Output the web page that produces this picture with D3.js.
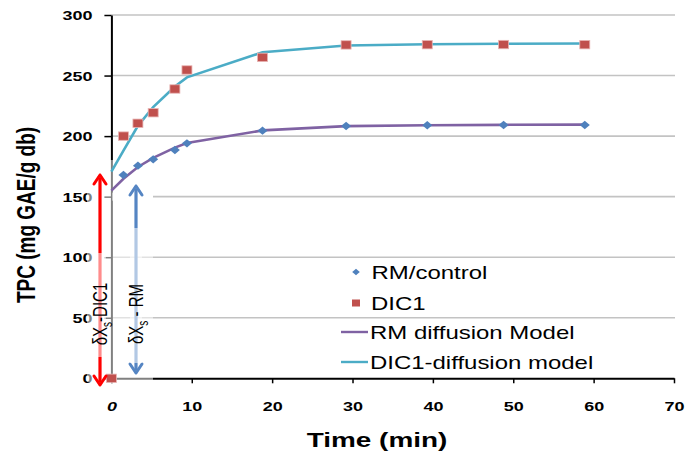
<!DOCTYPE html>
<html>
<head>
<meta charset="utf-8">
<script src="https://cdn.jsdelivr.net/npm/d3@7"></script>
<style>
  html, body { margin: 0; padding: 0; background: #fff; }
  svg { display: block; font-family: "Liberation Sans", Arial, sans-serif; }
</style>
</head>
<body>
<svg id="chart" width="685" height="458"></svg>
<script>
// ---------------- data ----------------
const times       = [1.5, 3.3, 5.2, 7.9, 9.4, 18.8, 29.2, 39.3, 48.8, 58.9];
const rmControl   = [167.9, 175.6, 180.8, 188.5, 194.0, 204.5, 208.4, 209.0, 209.2, 209.2];
const dic1Times   = [0, 1.5, 3.3, 5.2, 7.9, 9.4, 18.8, 29.2, 39.3, 48.8, 58.9];
const dic1        = [0, 200.0, 210.6, 219.3, 238.9, 254.6, 265.0, 275.3, 275.5, 275.6, 275.5];
const modelTimes  = [0, 1.5, 3.3, 5.2, 7.9, 9.4, 18.8, 29.2, 39.3, 48.8, 58.9];
const rmModel     = [155.0, 164.8, 174.5, 182.0, 190.5, 194.3, 204.7, 208.2, 209.0, 209.3, 209.5];
const dic1Model   = [170.6, 188.0, 208.5, 224.0, 241.0, 248.5, 269.3, 274.8, 275.8, 276.3, 276.5];
const xTicks      = [0, 10, 20, 30, 40, 50, 60, 70];
const yTicks      = [0, 50, 100, 150, 200, 250, 300];
const legendItems = ["RM/control", "DIC1", "RM diffusion Model", "DIC1-diffusion model"];
const xTitle = "Time (min)";
const yTitle = "TPC (mg GAE/g db)";

// ---------------- layout ----------------
const svg = d3.select("#chart");
const margin = { left: 111.4, right: 11, top: 15, bottom: 79.7 };
const W = 685, H = 458;
const x = d3.scaleLinear().domain([0, 70]).range([margin.left, W - margin.right]);
const y = d3.scaleLinear().domain([0, 300]).range([H - margin.bottom, margin.top]);

const C = {
  grid: "#c3c3c3",
  blue: "#4f81bd",
  red: "#c0504d",
  purple: "#7f62a3",
  cyan: "#4bacc6",
  arrowRed: "#ff0000",
  arrowBlue: "#5585c3"
};

// gridlines
svg.append("g").selectAll("line")
  .data(yTicks.filter(v => v > 0))
  .join("line")
  .attr("x1", x(0)).attr("x2", x(70) + 1)
  .attr("y1", d => y(d)).attr("y2", d => y(d))
  .attr("stroke", C.grid).attr("stroke-width", 1.6);

// y axis
const SXT = 1.44;
const yAxis = svg.append("g")
  .attr("transform", `translate(${x(0)},0)`)
  .call(d3.axisLeft(y).tickValues(yTicks).tickSize(7).tickSizeOuter(0).tickFormat(d3.format("d")));
yAxis.select(".domain").attr("stroke", "#000").attr("stroke-width", 2);
yAxis.selectAll(".tick line").attr("stroke", "#000").attr("stroke-width", 1.5);
yAxis.selectAll(".tick text")
  .attr("x", -19 / SXT).attr("dy", "0.36em")
  .attr("transform", `scale(${SXT},1)`)
  .attr("font-size", 12.5).attr("font-weight", "bold").attr("fill", "#000")
  .attr("font-family", "Liberation Sans, Arial, sans-serif");

// x axis
const xAxis = svg.append("g")
  .attr("transform", `translate(0,${y(0)})`)
  .call(d3.axisBottom(x).tickValues(xTicks).tickSize(5).tickSizeOuter(0).tickFormat(d3.format("d")));
xAxis.select(".domain").attr("stroke", "#000").attr("stroke-width", 2);
xAxis.selectAll(".tick line").attr("stroke", "#000").attr("stroke-width", 1.5);
xAxis.selectAll(".tick text")
  .attr("y", 32.7).attr("dy", 0)
  .attr("transform", `scale(${SXT},1)`)
  .attr("font-size", 12.5).attr("font-weight", "bold").attr("fill", "#000")
  .attr("font-style", (d, i) => i === 0 ? "italic" : "normal")
  .attr("font-family", "Liberation Sans, Arial, sans-serif");

// overlay text-box of annotation (semi transparent white), below the data
svg.append("rect").attr("x", 87).attr("y", 160).attr("width", 66).attr("height", 222)
  .attr("fill", "#fff").attr("opacity", 0.5);
svg.append("rect").attr("x", 112.5).attr("y", y(150) - 4).attr("width", 40.5).attr("height", 8)
  .attr("fill", "#fff");

// model lines
const lineGen = vals => d3.line().x((d, i) => x(modelTimes[i])).y(d => y(d))(vals);
svg.append("path").attr("d", lineGen(rmModel))
  .attr("fill", "none").attr("stroke", C.purple).attr("stroke-width", 2.6);
svg.append("path").attr("d", lineGen(dic1Model))
  .attr("fill", "none").attr("stroke", C.cyan).attr("stroke-width", 2.6);

// markers
const diamond = "M0,-4.2L5,0L0,4.2L-5,0Z";
svg.append("g").selectAll("path")
  .data(rmControl)
  .join("path")
  .attr("transform", (d, i) => `translate(${x(times[i])},${y(d)})`)
  .attr("d", diamond).attr("fill", C.blue);
svg.append("g").selectAll("rect")
  .data(dic1)
  .join("rect")
  .attr("x", (d, i) => x(dic1Times[i]) - 5).attr("y", d => y(d) - 4.2)
  .attr("width", 10).attr("height", 8.4)
  .attr("fill", C.red).attr("stroke", "#e8b4b3").attr("stroke-width", 0.8);

// double arrows
function dArrow(cx, yTop, yBot, color, fadeTop, fadeBot) {
  const g = svg.append("g");
  const hw = 6, hl = 9;
  g.append("line").attr("x1", cx).attr("x2", cx).attr("y1", yTop + 3).attr("y2", yBot - 3)
    .attr("stroke", color).attr("stroke-width", 3.2);
  g.append("path").attr("d", `M${cx},${yTop}L${cx + hw},${yTop + hl}M${cx},${yTop}L${cx - hw},${yTop + hl}`)
    .attr("stroke", color).attr("stroke-width", 3).attr("fill", "none").attr("stroke-linecap", "round");
  g.append("path").attr("d", `M${cx},${yBot}L${cx + hw},${yBot - hl}M${cx},${yBot}L${cx - hw},${yBot - hl}`)
    .attr("stroke", color).attr("stroke-width", 3).attr("fill", "none").attr("stroke-linecap", "round");
  g.append("rect").attr("x", cx - 6).attr("y", fadeTop).attr("width", 12).attr("height", fadeBot - fadeTop)
    .attr("fill", "#fff").attr("opacity", 0.55);
}
dArrow(100, 175, 385, C.arrowRed, 253, 357);
dArrow(136, 186, 373, C.arrowBlue, 228, 363);

function vLabel(cx, cy, pre, sub, post) {
  const g = svg.append("g").attr("transform", `translate(${cx},${cy}) scale(1.4,1) rotate(-90)`);
  const t = g.append("text").attr("text-anchor", "middle").attr("font-size", 15).attr("fill", "#000")
    .attr("dy", "0.35em");
  t.append("tspan").text(pre);
  t.append("tspan").attr("font-size", 10).attr("dy", 3).text(sub);
  t.append("tspan").attr("dy", -3).text(post);
}
vLabel(100, 314, "δX", "s", "-DIC1");
vLabel(136, 314, "δX", "s", " - RM");

// legend
const SXL = 1.37;
const legY = [272, 303, 332, 362];
const lg = svg.append("g");
lg.append("path").attr("d", "M0,-3.2L3.8,0L0,3.2L-3.8,0Z")
  .attr("transform", `translate(356,${legY[0]})`).attr("fill", C.blue);
lg.append("rect").attr("x", 352).attr("y", legY[1] - 3.5).attr("width", 8).attr("height", 7).attr("fill", C.red);
lg.append("line").attr("x1", 341).attr("x2", 368).attr("y1", legY[2]).attr("y2", legY[2])
  .attr("stroke", C.purple).attr("stroke-width", 2.4);
lg.append("line").attr("x1", 341).attr("x2", 368).attr("y1", legY[3]).attr("y2", legY[3])
  .attr("stroke", C.cyan).attr("stroke-width", 2.4);
const legX = [371.5, 371, 370, 370];
legendItems.forEach((t, i) => {
  lg.append("g").attr("transform", `translate(${legX[i]},${legY[i] + 6.5}) scale(${SXL},1)`)
    .append("text").attr("font-size", 17.5).attr("fill", "#000").text(t);
});

// axis titles
svg.append("g").attr("transform", `translate(377,447) scale(1.33,1)`)
  .append("text").attr("text-anchor", "middle").attr("font-size", 21).attr("font-weight", "bold")
  .attr("fill", "#000").text(xTitle);
svg.append("g").attr("transform", `translate(35,215) scale(1.33,1) rotate(-90)`)
  .append("text").attr("text-anchor", "middle").attr("font-size", 19).attr("font-weight", "bold")
  .attr("fill", "#000").text(yTitle);
</script>
</body>
</html>
